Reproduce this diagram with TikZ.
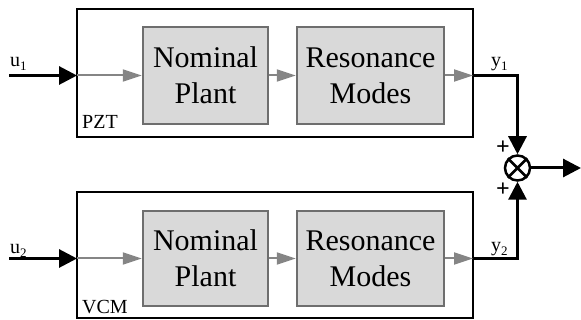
\documentclass[tikz,border=0pt]{standalone}
\usepackage{fontspec}
\newfontfamily\tms{LiberationSerif}[Extension=.ttf,UprightFont=*-Regular,BoldFont=*-Bold]
\usetikzlibrary{arrows.meta}
\definecolor{boxfill}{HTML}{D9D9D9}
\definecolor{boxedge}{HTML}{6E6E6E}
\definecolor{sig}{HTML}{858585}
\newcommand\sbs[1]{\raisebox{-0.35ex}{\fontsize{13}{13}\selectfont #1}}
\begin{document}
\begin{tikzpicture}[x=1pt,y=-1pt,
  outer/.style={draw=black,line width=2pt,minimum width=396pt,inner sep=0},
  block/.style={draw=boxedge,fill=boxfill,line width=2.5pt,inner sep=0,
    align=center,font=\tms\fontsize{30}{36}\selectfont},
  gsig/.style={draw=sig,line width=2pt,-{Triangle[length=19pt,width=12pt]},sig},
  bsig/.style={line width=3pt,-{Triangle[length=18pt,width=18pt]}},
  lbl/.style={inner sep=0,anchor=base west,font=\tms\fontsize{20}{20}\selectfont},
  plus/.style={inner sep=0,font=\tms\fontsize{24}{24}\selectfont\bfseries},
  ]
\useasboundingbox (0,0) rectangle (581,320);

% PZT branch
\node[outer,minimum height=128pt] (pzt) at (275,73) {};
\node[block,minimum width=125pt,minimum height=97pt] (np1) at (205.5,75.5) {Nominal\\Plant};
\node[block,minimum width=147pt,minimum height=97pt] (rm1) at (370.5,75.5) {Resonance\\Modes};
\coordinate (in1) at (9,75.5);
\coordinate (i1) at (77,75.5);
\coordinate (o1) at (473,75.5);
\coordinate (c1) at (517.5,75.5);
\node[lbl] (u1) at (10,67) {u\sbs{1}};
\node[lbl] (y1) at (491,67) {y\sbs{1}};
\node[lbl] (lp) at (82,129) {PZT};

% VCM branch
\node[outer,minimum height=126.5pt] (vcm) at (275,255.25) {};
\node[block,minimum width=125pt,minimum height=95pt] (np2) at (205.5,258.5) {Nominal\\Plant};
\node[block,minimum width=147pt,minimum height=95pt] (rm2) at (370.5,258.5) {Resonance\\Modes};
\coordinate (in2) at (9,258.5);
\coordinate (i2) at (77,258.5);
\coordinate (o2) at (473,258.5);
\coordinate (c2) at (517.5,258.5);
\node[lbl] (u2) at (10,254) {u\sbs{2}};
\node[lbl] (y2) at (491,252) {y\sbs{2}};
\node[lbl] (lv) at (82,313) {VCM};

% summing junction
\node[circle,draw,line width=2.5pt,minimum size=25pt,inner sep=0] (sum) at (517.5,168) {};
\draw[line width=2.5pt] (sum.north west) -- (sum.south east)
                        (sum.north east) -- (sum.south west);
\coordinate (out) at (581,168);
\node[plus] (p1) at (503,148) {+};
\node[plus] (p2) at (503,190) {+};

% signal paths
\draw[bsig] (in1) -- (i1);
\draw[gsig] (i1) -- (np1.west);
\draw[gsig] (np1.east) -- (rm1.west);
\draw[gsig] (rm1.east) -- (o1);
\draw[bsig] (o1) -- (c1) -- (sum.north);

\draw[bsig] (in2) -- (i2);
\draw[gsig] (i2) -- (np2.west);
\draw[gsig] (np2.east) -- (rm2.west);
\draw[gsig] (rm2.east) -- (o2);
\draw[bsig] (o2) -- (c2) -- (sum.south);

\draw[bsig] (sum.east) -- (out);
\end{tikzpicture}
\end{document}
